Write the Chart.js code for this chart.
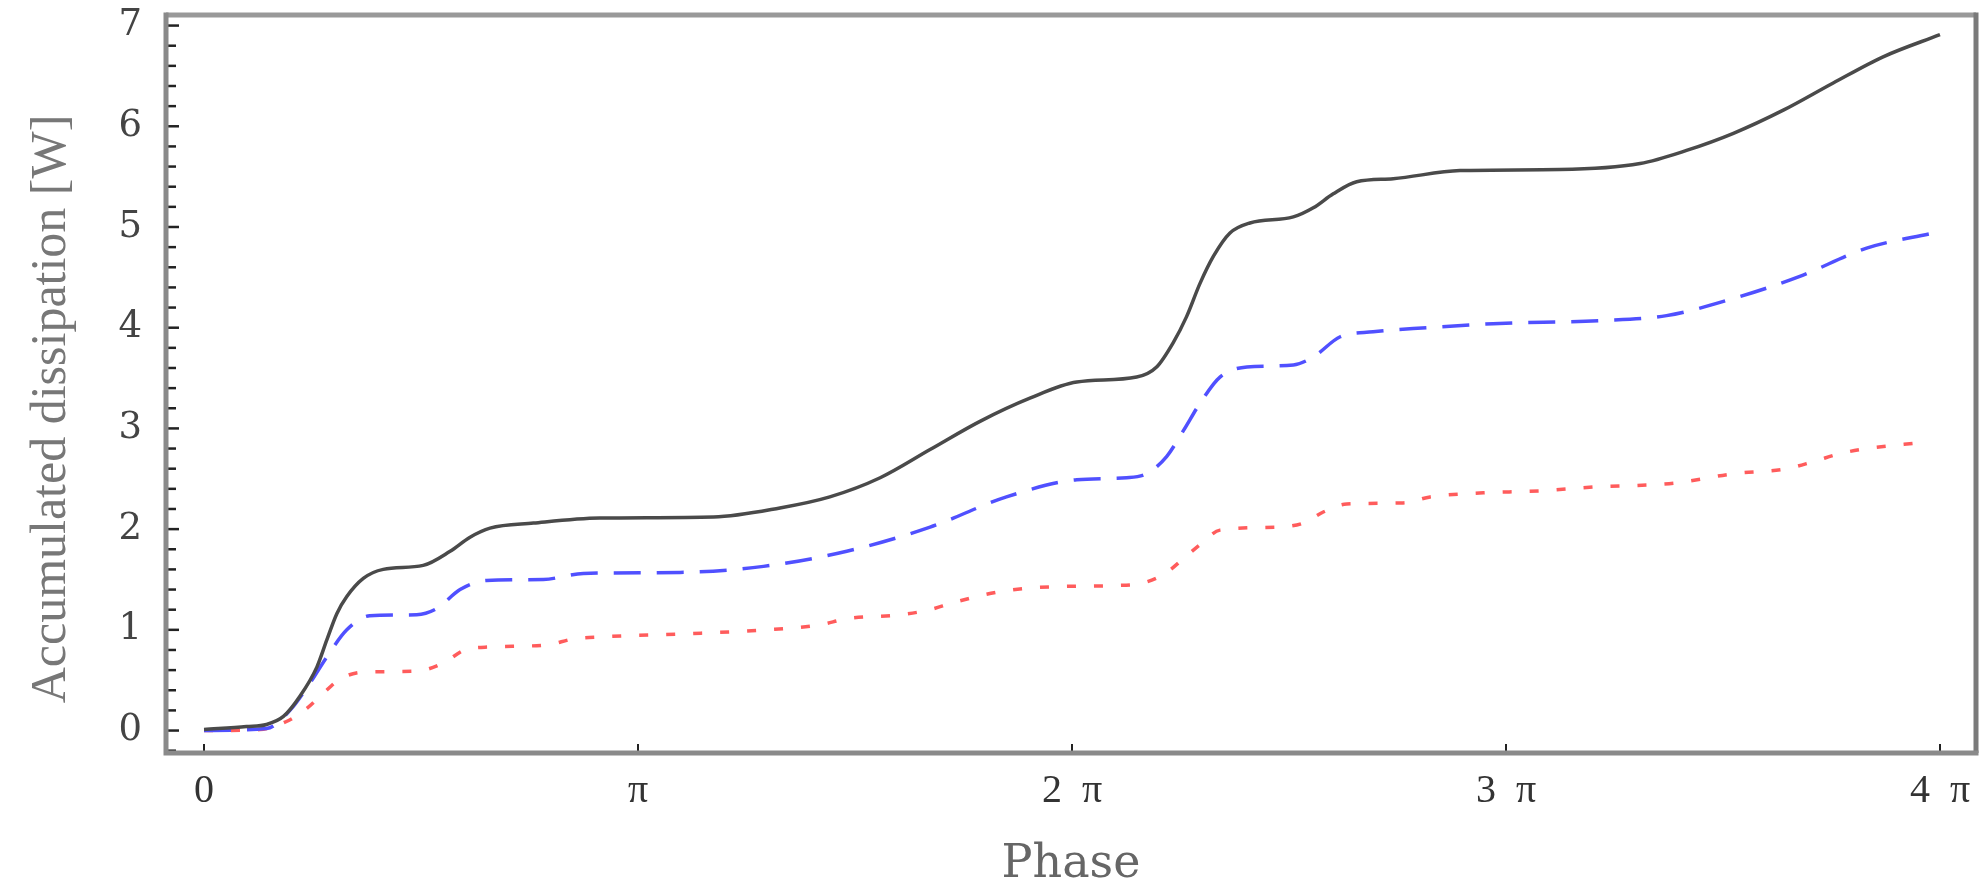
<!DOCTYPE html>
<html>
<head>
<meta charset="utf-8">
<script src="https://cdn.jsdelivr.net/npm/chart.js@4.4.0/dist/chart.umd.min.js"></script>
<style>
    html, body { margin: 0; padding: 0; background: #fff; }
    #wrap { width: 1985px; height: 890px; position: relative; }
</style>
</head>
<body>
<div id="wrap"><canvas id="dissipation"></canvas></div>
<script>
// phase in units of pi, dissipation in W
const blackPhase = [0, 0.098, 0.144, 0.183, 0.221, 0.26, 0.283, 0.306, 0.329, 0.367, 0.413, 0.505, 0.567, 0.613, 0.659, 0.759, 0.912, 1.174, 1.327, 1.442, 1.558, 1.673, 1.788, 1.903, 2.011, 2.149, 2.195, 2.233, 2.264, 2.295, 2.326, 2.364, 2.41, 2.51, 2.556, 2.602, 2.656, 2.74, 2.894, 3.124, 3.309, 3.416, 3.524, 3.639, 3.754, 3.869, 4.0];
const blackValues = [0.01, 0.04, 0.06, 0.14, 0.34, 0.63, 0.9, 1.16, 1.33, 1.51, 1.6, 1.64, 1.78, 1.92, 2.01, 2.06, 2.11, 2.12, 2.21, 2.32, 2.51, 2.79, 3.07, 3.30, 3.46, 3.51, 3.61, 3.85, 4.11, 4.44, 4.71, 4.94, 5.04, 5.10, 5.19, 5.33, 5.45, 5.48, 5.56, 5.57, 5.63, 5.76, 5.93, 6.16, 6.43, 6.69, 6.91];

const bluePhase = [0, 0.144, 0.198, 0.244, 0.283, 0.329, 0.382, 0.49, 0.536, 0.59, 0.651, 0.782, 0.874, 1.097, 1.289, 1.481, 1.673, 1.849, 2.011, 2.126, 2.172, 2.218, 2.257, 2.295, 2.341, 2.403, 2.51, 2.556, 2.618, 2.694, 2.817, 2.97, 3.217, 3.37, 3.524, 3.677, 3.831, 3.985];
const blueValues = [0, 0.02, 0.2, 0.47, 0.73, 1.0, 1.14, 1.15, 1.21, 1.40, 1.49, 1.50, 1.56, 1.57, 1.63, 1.78, 2.02, 2.32, 2.49, 2.51, 2.55, 2.72, 2.98, 3.25, 3.51, 3.61, 3.63, 3.71, 3.91, 3.96, 4.00, 4.04, 4.07, 4.12, 4.29, 4.51, 4.79, 4.94];

const redPhase = [0, 0.129, 0.19, 0.237, 0.275, 0.313, 0.367, 0.49, 0.551, 0.601, 0.659, 0.79, 0.851, 0.912, 1.104, 1.296, 1.419, 1.481, 1.604, 1.673, 1.726, 1.849, 1.972, 2.103, 2.168, 2.218, 2.26, 2.299, 2.341, 2.472, 2.533, 2.579, 2.633, 2.763, 2.825, 2.948, 3.078, 3.209, 3.332, 3.394, 3.524, 3.647, 3.708, 3.77, 3.831, 3.96];
const redValues = [0, 0.01, 0.09, 0.22, 0.37, 0.51, 0.58, 0.59, 0.67, 0.80, 0.83, 0.85, 0.91, 0.93, 0.96, 1.00, 1.05, 1.11, 1.15, 1.20, 1.27, 1.39, 1.43, 1.44, 1.47, 1.57, 1.72, 1.86, 1.99, 2.02, 2.06, 2.17, 2.25, 2.26, 2.32, 2.36, 2.38, 2.42, 2.44, 2.46, 2.55, 2.60, 2.67, 2.75, 2.80, 2.86];

const xTickLabels = ["0", "\u03c0", "2  \u03c0", "3  \u03c0", "4  \u03c0"];
const yTickLabels = ["0", "1", "2", "3", "4", "5", "6", "7"];

const serif = "'Liberation Serif', 'Times New Roman', serif";
const wideSerif = "'DejaVu Serif', serif";

function toPoints(xs, ys) {
    return xs.map((x, i) => ({ x: x, y: ys[i] }));
}

// frame + inward ticks, like the original plot
const framePlugin = {
    id: "frame",
    afterDraw(chart) {
        const ctx = chart.ctx;
        const a = chart.chartArea;
        const xs = chart.scales.x;
        const ys = chart.scales.y;
        ctx.save();

        ctx.strokeStyle = "#222";
        ctx.lineWidth = 2.5;
        for (let i = -1; i <= 35; i++) {
            const py = ys.getPixelForValue(i / 5);
            if (py < a.top || py > a.bottom) continue;
            const len = i % 5 === 0 ? 13 : 10;
            ctx.beginPath();
            ctx.moveTo(a.left, py);
            ctx.lineTo(a.left + len, py);
            ctx.stroke();
        }
        ctx.lineWidth = 2;
        for (let i = 0; i < xTickLabels.length; i++) {
            const px = xs.getPixelForValue(i);
            ctx.beginPath();
            ctx.moveTo(px, a.bottom);
            ctx.lineTo(px, a.bottom - 9);
            ctx.stroke();
        }

        ctx.lineWidth = 5;
        ctx.strokeStyle = "#999";
        ctx.beginPath();
        ctx.moveTo(a.left, a.top);
        ctx.lineTo(a.right, a.top);
        ctx.stroke();
        ctx.strokeStyle = "#7a7a7a";
        ctx.beginPath();
        ctx.moveTo(a.right, a.top - 2.5);
        ctx.lineTo(a.right, a.bottom);
        ctx.stroke();
        ctx.strokeStyle = "#8a8a8a";
        ctx.beginPath();
        ctx.moveTo(a.left, a.top - 2.5);
        ctx.lineTo(a.left, a.bottom + 2.5);
        ctx.moveTo(a.left - 2.5, a.bottom);
        ctx.lineTo(a.right + 2.5, a.bottom);
        ctx.stroke();
        ctx.restore();
    },
};

const ctx = document.getElementById("dissipation").getContext("2d");
const chart = new Chart(ctx, {
    type: "line",
    data: {
        datasets: [
            {
                data: toPoints(blackPhase, blackValues),
                borderColor: "#4a4a4a",
                borderWidth: 3.5,
                cubicInterpolationMode: "monotone",
                fill: false,
            },
            {
                data: toPoints(bluePhase, blueValues),
                borderColor: "#5050ff",
                borderWidth: 3.5,
                borderDash: [27, 16],
                cubicInterpolationMode: "monotone",
                fill: false,
            },
            {
                data: toPoints(redPhase, redValues),
                borderColor: "#ff5c5c",
                borderWidth: 3.5,
                borderDash: [9, 18],
                cubicInterpolationMode: "monotone",
                fill: false,
            },
        ],
    },
    options: {
        responsive: true,
        maintainAspectRatio: false,
        animation: false,
        layout: { padding: { top: 15, right: 9, left: 0, bottom: 0 } },
        plugins: { legend: { display: false }, tooltip: { enabled: false } },
        elements: { point: { radius: 0 } },
        scales: {
            x: {
                type: "linear",
                min: -0.0876,
                max: 4.083,
                afterFit: (s) => {
                    s.height = 137;
                    s.paddingLeft = 0;
                    s.paddingRight = 0;
                },
                grid: { display: false, drawTicks: false },
                border: { display: false },
                ticks: {
                    stepSize: 1,
                    includeBounds: false,
                    padding: 14,
                    maxRotation: 0,
                    color: "#333",
                    font: { family: serif, size: 40 },
                    callback: (v) => xTickLabels[v],
                },
                title: {
                    display: true,
                    text: "Phase",
                    color: "#666",
                    padding: { top: 0, bottom: 2 },
                    font: { family: wideSerif, size: 46, lineHeight: 1 },
                },
            },
            y: {
                type: "linear",
                min: -0.223,
                max: 7.105,
                afterFit: (s) => {
                    s.width = 166;
                    s.paddingTop = 0;
                    s.paddingBottom = 0;
                },
                grid: { display: false, drawTicks: false },
                border: { display: false },
                ticks: {
                    stepSize: 1,
                    includeBounds: false,
                    padding: 24,
                    color: "#444",
                    font: { family: wideSerif, size: 37 },
                    callback: (v) => yTickLabels[v],
                },
                title: {
                    display: true,
                    // trailing spaces nudge the centred label down a little
                    text: "Accumulated dissipation [W]\u00a0\u00a0\u00a0\u00a0",
                    color: "#777",
                    padding: { top: 22, bottom: 0 },
                    font: { family: serif, size: 50, lineHeight: 1.2 },
                },
            },
        },
    },
    plugins: [framePlugin],
});
</script>
</body>
</html>
